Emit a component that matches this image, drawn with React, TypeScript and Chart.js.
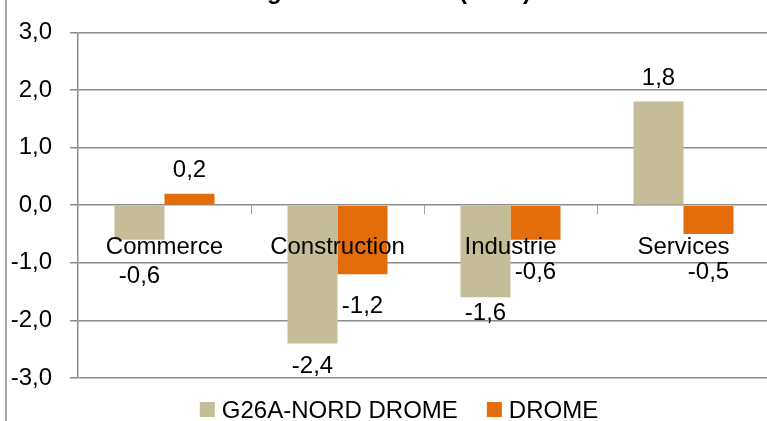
import React, { useEffect, useRef } from "react";
import { Chart, registerables } from "chart.js";

Chart.register(...registerables);

const categories = ["Commerce", "Construction", "Industrie", "Services"];
const seriesNames = ["G26A-NORD DROME", "DROME"];
const nordDromeValues = [-0.6, -2.4, -1.6, 1.8];
const dromeValues = [0.2, -1.2, -0.6, -0.5];
const yTickValues = [-3, -2, -1, 0, 1, 2, 3];
const titleText = "grands secteurs (en %)";

const seriesColors = ["#C4BD97", "#E46C0A"];
// extra vertical distance (px) of each negative value label below its bar end
const negLabelGap = [
  [43, 30, 23, 0],
  [0, 39, 39, 45],
];

const FONT = "'Liberation Sans', Arial, sans-serif";
const fmt = (v: number) => v.toFixed(1).replace(".", ",");

const decorPlugin = {
  id: "decor",
  afterDatasetsDraw(chart: any) {
    const { ctx, scales } = chart;
    const xs = scales.x;
    const ys = scales.y;
    const y0 = ys.getPixelForValue(0);
    ctx.save();

    // category boundary ticks on the zero line
    ctx.strokeStyle = "#a0a0a0";
    ctx.lineWidth = 1;
    for (let i = 1; i < categories.length; i++) {
      const bx = Math.round((xs.getPixelForValue(i - 1) + xs.getPixelForValue(i)) / 2) + 0.5;
      ctx.beginPath();
      ctx.moveTo(bx, y0);
      ctx.lineTo(bx, y0 + 9);
      ctx.stroke();
    }

    // category labels
    ctx.font = `24px ${FONT}`;
    ctx.fillStyle = "#000";
    ctx.textAlign = "center";
    ctx.textBaseline = "alphabetic";
    categories.forEach((c, i) => {
      ctx.fillText(c, xs.getPixelForValue(i), y0 + 49);
    });

    // value labels
    chart.data.datasets.forEach((ds: any, di: number) => {
      const meta = chart.getDatasetMeta(di);
      meta.data.forEach((bar: any, i: number) => {
        const v = ds.data[i];
        let yy: number;
        if (v >= 0) yy = bar.y - 17;
        else yy = bar.y + negLabelGap[di][i];
        ctx.fillText(fmt(v), bar.x, yy);
      });
    });

    // legend
    const cx = chart.width / 2 + 14;
    const box = 15;
    const gapTxt = 7;
    const gapItem = 29;
    const widths = chart.data.datasets.map((d: any) => ctx.measureText(d.label).width);
    const total = widths.reduce((a: number, w: number) => a + box + gapTxt + w, 0) + gapItem * (widths.length - 1);
    let lx = cx - total / 2;
    const ly = 418;
    ctx.textAlign = "left";
    chart.data.datasets.forEach((d: any, di: number) => {
      ctx.fillStyle = d.backgroundColor;
      ctx.fillRect(lx, ly - 16, box, box);
      ctx.fillStyle = "#000";
      ctx.fillText(d.label, lx + box + gapTxt, ly);
      lx += box + gapTxt + widths[di] + gapItem;
    });

    // title (mostly above the visible area)
    ctx.font = `bold 24px ${FONT}`;
    ctx.textAlign = "center";
    ctx.fillText(titleText, cx, -1.5);

    // left frame line
    ctx.fillStyle = "#a6a6a6";
    ctx.fillRect(5, 0, 2, chart.height);

    ctx.restore();
  },
};

export default function App() {
  const ref = useRef<HTMLCanvasElement>(null);

  useEffect(() => {
    if (!ref.current) return;
    const chart = new Chart(ref.current, {
      type: "bar",
      data: {
        labels: categories,
        datasets: [
          {
            label: seriesNames[0],
            data: nordDromeValues,
            backgroundColor: seriesColors[0],
            barPercentage: 1,
            categoryPercentage: 0.578,
          },
          {
            label: seriesNames[1],
            data: dromeValues,
            backgroundColor: seriesColors[1],
            barPercentage: 1,
            categoryPercentage: 0.578,
          },
        ],
      },
      options: {
        responsive: false,
        animation: false,
        devicePixelRatio: 1,
        layout: { padding: { top: 25, bottom: 43, left: 0, right: 0 } },
        plugins: {
          legend: { display: false },
          title: { display: false },
          tooltip: { enabled: false },
        },
        scales: {
          x: { display: false },
          y: {
            min: -3,
            max: 3,
            afterBuildTicks: (scale: any) => {
              scale.ticks = yTickValues.map((v) => ({ value: v }));
            },
            afterFit: (scale: any) => {
              scale.width = 78;
            },
            ticks: {
              callback: (v: any) => fmt(Number(v)),
              font: { family: FONT, size: 24 },
              color: "#000",
              padding: 18,
            },
            grid: { color: "#8c8c8c", lineWidth: 1.5, tickLength: 8, drawTicks: true },
            border: { display: true, color: "#8c8c8c", width: 1.5 },
          },
        },
      },
      plugins: [decorPlugin],
    });
    return () => chart.destroy();
  }, []);

  return (
    <div style={{ position: "fixed", left: 0, top: 0, width: 767, height: 421, overflow: "hidden", background: "#fff" }}>
      <canvas ref={ref} width={770} height={421} />
    </div>
  );
}
